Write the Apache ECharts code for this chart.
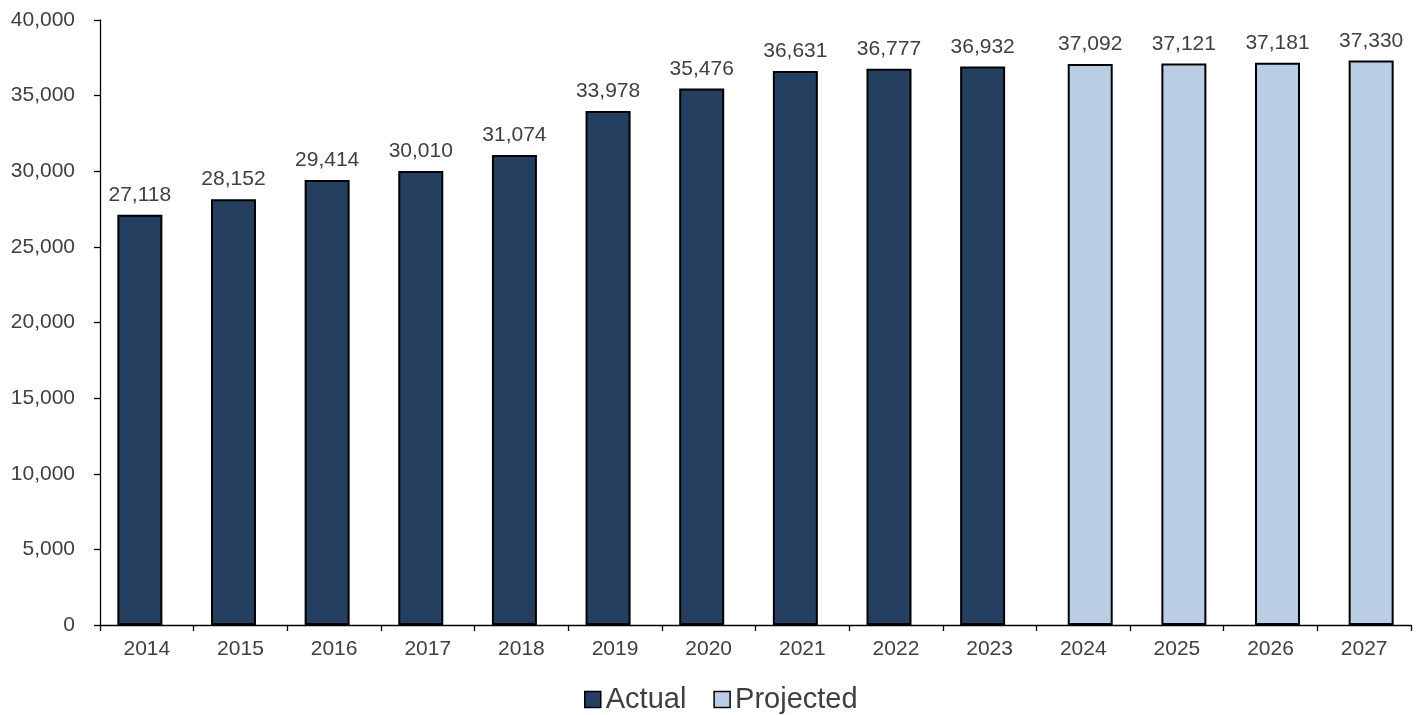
<!DOCTYPE html>
<html>
<head>
<meta charset="utf-8">
<script src="https://cdn.jsdelivr.net/npm/echarts@6/dist/echarts.min.js"></script>
<style>
  html, body { margin: 0; padding: 0; background: #fff; }
  #chart { width: 1423px; height: 715px; }
</style>
</head>
<body>
<div id="chart"></div>
<script>
// Yearly totals: recorded years, then projected years
const years = ['2014','2015','2016','2017','2018','2019','2020','2021','2022','2023','2024','2025','2026','2027'];
const actualValues = [27118, 28152, 29414, 30010, 31074, 33978, 35476, 36631, 36777, 36932, null, null, null, null];
const projectedValues = [null, null, null, null, null, null, null, null, null, null, 37092, 37121, 37181, 37330];

const fontFamily = '"Liberation Sans", Arial, sans-serif';
const textColor = '#404040';

const labelStyle = {
  show: true,
  position: 'top',
  distance: 9,
  fontFamily: fontFamily,
  fontSize: 21,
  color: textColor,
  formatter: p => p.value.toLocaleString('en-US')
};

const chart = echarts.init(document.getElementById('chart'));
chart.setOption({
  animation: false,
  backgroundColor: '#ffffff',
  grid: { left: 100, right: 12, top: 20, bottom: 90, containLabel: false },
  legend: {
    top: 680,
    left: 579,
    itemWidth: 16,
    itemHeight: 16,
    itemGap: 27,
    icon: 'rect',
    itemStyle: { borderColor: '#000', borderWidth: 1.5 },
    textStyle: { fontFamily: fontFamily, fontSize: 29, color: textColor },
    data: ['Actual', 'Projected']
  },
  xAxis: {
    type: 'category',
    data: years,
    axisLine: { lineStyle: { color: '#000', width: 1.3 } },
    axisTick: { show: true, length: 6, lineStyle: { color: '#000', width: 1.3 } },
    axisLabel: { fontFamily: fontFamily, fontSize: 21, color: textColor, margin: 14 }
  },
  yAxis: {
    type: 'value',
    min: 0,
    max: 40000,
    interval: 5000,
    axisLine: { show: true, lineStyle: { color: '#000', width: 1.3 } },
    axisTick: { show: true, length: 6, lineStyle: { color: '#000', width: 1.3 } },
    splitLine: { show: false },
    axisLabel: {
      fontFamily: fontFamily, fontSize: 21, color: textColor, margin: 25,
      formatter: v => v.toLocaleString('en-US')
    }
  },
  series: [
    {
      name: 'Actual',
      type: 'bar',
      barWidth: 45,
      barGap: '-69%',
      data: actualValues,
      itemStyle: { color: '#243F60', borderColor: '#000', borderWidth: 2 },
      label: labelStyle
    },
    {
      name: 'Projected',
      type: 'bar',
      barWidth: 45,
      barGap: '-69%',
      data: projectedValues,
      itemStyle: { color: '#B9CDE5', borderColor: '#000', borderWidth: 2 },
      label: labelStyle
    }
  ]
});
</script>
</body>
</html>
